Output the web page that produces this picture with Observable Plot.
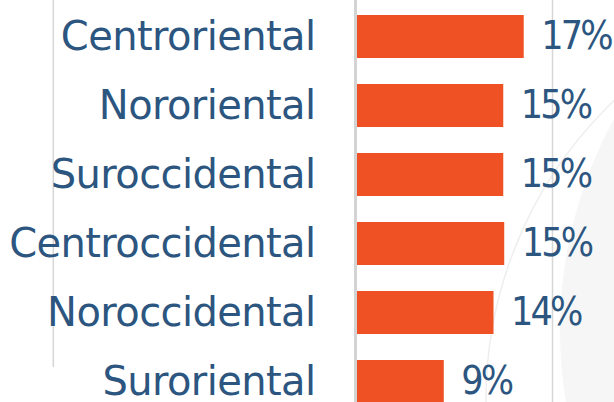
<!DOCTYPE html>
<html>
<head>
<meta charset="utf-8">
<script src="https://cdn.jsdelivr.net/npm/d3@7"></script>
<script src="https://cdn.jsdelivr.net/npm/@observablehq/plot@0.6"></script>
<style>
  html, body { margin: 0; padding: 0; background: #ffffff; }
  #chart { width: 614px; height: 402px; overflow: hidden; }
  svg { display: block; }
</style>
</head>
<body>
<div id="chart"></div>
<script>
const regions = ["Centroriental", "Nororiental", "Suroccidental", "Centroccidental", "Noroccidental", "Suroriental"];
const shares = [17.1, 15.0, 15.0, 15.1, 14.0, 8.9];
const valueLabels = ["17%", "15%", "15%", "15%", "14%", "9%"];
const gridValues = [20];
const frameLineValues = [-31.2];

const data = regions.map((r, i) => ({ region: r, share: shares[i], label: valueLabels[i] }));

const textColor = "#2c5680";
const barColor = "#f05124";

// faint decorative slide background (arcs at the right)
function backdrop() {
  const g = document.createElementNS("http://www.w3.org/2000/svg", "g");
  const c1 = document.createElementNS("http://www.w3.org/2000/svg", "circle");
  c1.setAttribute("cx", 1000); c1.setAttribute("cy", 330); c1.setAttribute("r", 440);
  c1.setAttribute("fill", "#f6f6f6");
  const c2 = document.createElementNS("http://www.w3.org/2000/svg", "circle");
  c2.setAttribute("cx", 900); c2.setAttribute("cy", 400); c2.setAttribute("r", 414);
  c2.setAttribute("fill", "none"); c2.setAttribute("stroke", "#eeeeee"); c2.setAttribute("stroke-width", 1.5);
  g.appendChild(c2); g.appendChild(c1);
  return g;
}

const chart = Plot.plot({
  width: 614,
  height: 402,
  marginLeft: 0, marginRight: 0, marginTop: 0, marginBottom: 0,
  style: { fontFamily: "'DejaVu Sans', sans-serif", background: "transparent", overflow: "hidden" },
  x: { domain: [0, 20], range: [357, 552], axis: null },
  y: { domain: regions, range: [0, 418], paddingInner: 0.38, paddingOuter: 0.19, axis: null },
  marks: [
    backdrop,
    Plot.ruleX(frameLineValues, { x: d => d, insetBottom: 35, stroke: "#d6d6d6", strokeWidth: 1.5 }),
    Plot.ruleX(gridValues, { x: d => d, stroke: "#d6d6d6", strokeWidth: 1.5 }),
    Plot.barX(data, { y: "region", x: "share", fill: barColor }),
    Plot.ruleX([0], { stroke: "#d3d3d3", strokeWidth: 3, dx: -2 }),
    Plot.text(data, { y: "region", x: 0, text: "region", textAnchor: "end", dx: -42, fontSize: 40, fontFamily: "'DejaVu Sans', sans-serif", fill: textColor, className: "lbl" }),
    Plot.text(data, { y: "region", x: "share", text: "label", textAnchor: "start", dx: 17, fontSize: 39, fontFamily: "'DejaVu Sans Condensed', sans-serif", fill: textColor, className: "val" })
  ]
});
chart.querySelectorAll(".lbl text").forEach(t => t.setAttribute("letter-spacing", "-0.6"));
chart.querySelectorAll(".val text").forEach(t => t.setAttribute("letter-spacing", "-2.8"));
document.getElementById("chart").appendChild(chart);
</script>
</body>
</html>
